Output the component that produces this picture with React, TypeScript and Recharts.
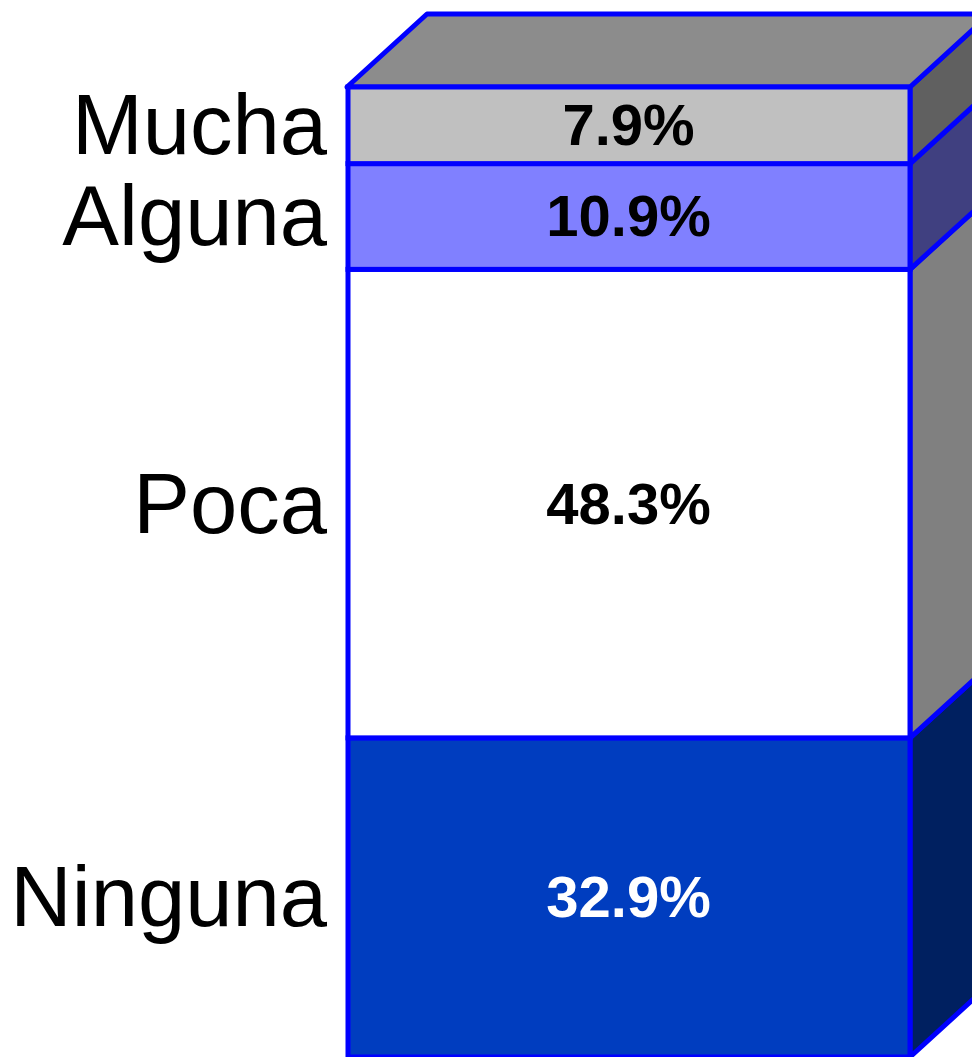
import { BarChart, Bar, XAxis, YAxis, LabelList } from "recharts"

const categories = ["Total"]
const segmentNames = ["Ninguna", "Poca", "Alguna", "Mucha"]
const segmentValues = [32.9, 48.3, 10.9, 7.9]
const frontColors = ["#003DBF", "#FFFFFF", "#8080FF", "#C0C0C0"]
const sideColors = ["#002060", "#808080", "#404080", "#606060"]
const valueColors = ["#FFFFFF", "#000000", "#000000", "#000000"]

const data = categories.map((c) => {
  const row: Record<string, string | number> = { name: c }
  segmentNames.forEach((s, i) => (row[s] = segmentValues[i]))
  return row
})

const DX = 80
const DY = -73
const EDGE = "#0000FF"
const EDGE_W = 5
const FONT = "'Liberation Sans', Arial, sans-serif"

function makeShape(i: number) {
  const isTop = i === segmentNames.length - 1
  return (props: any) => {
    const { x, y, width, height } = props
    const r = x + width
    return (
      <g>
        <polygon
          points={`${r},${y} ${r + DX},${y + DY} ${r + DX},${y + height + DY} ${r},${y + height}`}
          fill={sideColors[i]}
          stroke={EDGE}
          strokeWidth={EDGE_W}
          strokeLinejoin="round"
        />
        {isTop && (
          <polygon
            points={`${x},${y} ${x + DX},${y + DY} ${r + DX},${y + DY} ${r},${y}`}
            fill="#8C8C8C"
            stroke={EDGE}
            strokeWidth={EDGE_W}
            strokeLinejoin="round"
          />
        )}
        <rect
          x={x + 1}
          y={y}
          width={width - 1}
          height={height}
          fill={frontColors[i]}
          stroke={EDGE}
          strokeWidth={EDGE_W}
        />
      </g>
    )
  }
}

function nameLabel(name: string) {
  return (props: any) => {
    const { x, y, height } = props
    return (
      <text x={x - 20} y={y + height / 2 + 29} textAnchor="end" fontSize={85} fontFamily={FONT} fill="#000">
        {name}
      </text>
    )
  }
}

function valueLabel(i: number) {
  return (props: any) => {
    const { x, y, width, height } = props
    return (
      <text
        x={x + width / 2}
        y={y + height / 2 + 20}
        textAnchor="middle"
        fontSize={58}
        fontWeight="bold"
        fontFamily={FONT}
        fill={valueColors[i]}
      >
        {segmentValues[i].toFixed(1)}%
      </text>
    )
  }
}

export default function App() {
  return (
    <div style={{ position: "absolute", left: 0, top: 0 }}>
      <BarChart
        width={972}
        height={1057}
        data={data}
        margin={{ top: 87, right: 62, left: 347, bottom: 0 }}
        barCategoryGap={0}
      >
        <XAxis dataKey="name" hide />
        <YAxis hide domain={[0, 100]} />
        {segmentNames.map((s, i) => (
          <Bar key={s} dataKey={s} stackId="a" isAnimationActive={false} shape={makeShape(i)}>
            <LabelList dataKey={s} content={valueLabel(i)} />
            <LabelList dataKey={s} content={nameLabel(s)} />
          </Bar>
        ))}
      </BarChart>
    </div>
  )
}
